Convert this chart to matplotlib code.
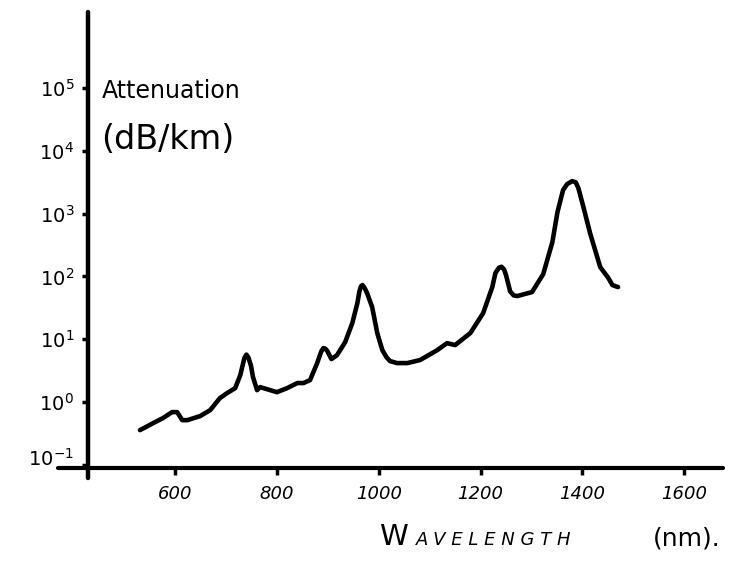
"""Hand-drawn style fibre attenuation spectrum."""

import matplotlib

matplotlib.use("Agg")
import matplotlib.pyplot as plt
from matplotlib.transforms import ScaledTranslation

# values
wavelength_nm = [
    531, 557, 576, 594, 604, 614, 624, 649, 669, 688, 702, 718, 728, 736,
    740, 744, 749, 753, 761, 767, 800, 820, 840, 852, 865, 879, 887, 891,
    895, 899, 907, 918, 934, 948, 958, 962, 965, 968, 972, 977, 987, 997,
    1007, 1015, 1022, 1036, 1056, 1081, 1115, 1134, 1150, 1180, 1205, 1223,
    1229, 1236, 1241, 1246, 1250, 1258, 1265, 1272, 1301, 1323, 1341, 1351,
    1362, 1370, 1380, 1387, 1392, 1402, 1415, 1425, 1435, 1451, 1459, 1470,
]
attenuation_db_km = [
    0.358, 0.463, 0.556, 0.693, 0.693, 0.516, 0.516, 0.598, 0.746, 1.16,
    1.39, 1.67, 2.69, 5.02, 5.70, 5.10, 3.80, 2.50, 1.55, 1.73, 1.44, 1.67,
    2.01, 2.01, 2.24, 4.18, 6.40, 7.24, 7.10, 6.50, 4.84, 5.60, 9.02, 18.1,
    37.7, 58.0, 70.0, 73.0, 66.0, 54.5, 32.6, 12.6, 6.73, 5.21, 4.50, 4.18,
    4.18, 4.67, 6.73, 8.69, 8.09, 12.6, 26.1, 67.8, 113, 138, 143, 130, 105,
    58.0, 50.0, 48.8, 56.5, 109, 353, 1059, 2377, 2960, 3304, 3150, 2559,
    1274, 491, 263, 141, 94.4, 72.9, 67.8,
]
x_ticks = [600, 800, 1000, 1200, 1400, 1600]
y_exponents = [-1, 0, 1, 2, 3, 4, 5]

FONT = "DejaVu Sans"

fig = plt.figure(figsize=(7.4, 5.75), dpi=100)
ax = fig.add_axes([0.119, 0.186, 0.849, 0.793])
ax.set_yscale("log")
ax.set_xlim(429, 1663)
ax.set_ylim(10 ** -1.05, 10 ** 6.21)

ax.plot(wavelength_nm, attenuation_db_km, color="black", lw=3.3,
        solid_joinstyle="round", solid_capstyle="round")

# hand-drawn axes, running a little past the origin
for side in ax.spines.values():
    side.set_visible(False)
ax.plot([0, 0], [-0.022, 1], transform=ax.transAxes, color="black",
        lw=3.2, clip_on=False, solid_capstyle="round")
ax.plot([-0.048, 1.01], [0, 0], transform=ax.transAxes, color="black",
        lw=3.0, clip_on=False, solid_capstyle="round")

ax.set_xticks(x_ticks)
ax.set_xticklabels([str(t) for t in x_ticks], fontsize=13, style="italic",
                   family=FONT)
ax.set_yticks([10.0 ** e for e in y_exponents])
ax.set_yticklabels([rf"$\mathregular{{10^{{{e}}}}}$" for e in y_exponents],
                   fontsize=14, family=FONT)
ax.minorticks_off()
ax.tick_params(axis="x", direction="out", length=5, width=2.5, pad=7)
ax.tick_params(axis="y", direction="out", length=4, width=2.5, pad=6)

# lowest label sits a touch above the axis line in the sketch
low = ax.get_yticklabels()[0]
low.set_transform(low.get_transform()
                  + ScaledTranslation(0, 6 / 72, fig.dpi_scale_trans))

fig.text(0.138, 0.842, "Attenuation", fontsize=17, family=FONT,
         va="center", ha="left")
fig.text(0.136, 0.757, "(dB/km)", fontsize=24, family=FONT,
         va="center", ha="left")

fig.text(0.512, 0.052, "W", fontsize=21, family=FONT, va="baseline")
fig.text(0.562, 0.052, "A V E L E N G T H", fontsize=13, family=FONT,
         va="baseline", style="italic")
fig.text(0.882, 0.052, "(nm).", fontsize=18, family=FONT, va="baseline")

fig.savefig("out.png", dpi=100, facecolor="white")
plt.close(fig)
